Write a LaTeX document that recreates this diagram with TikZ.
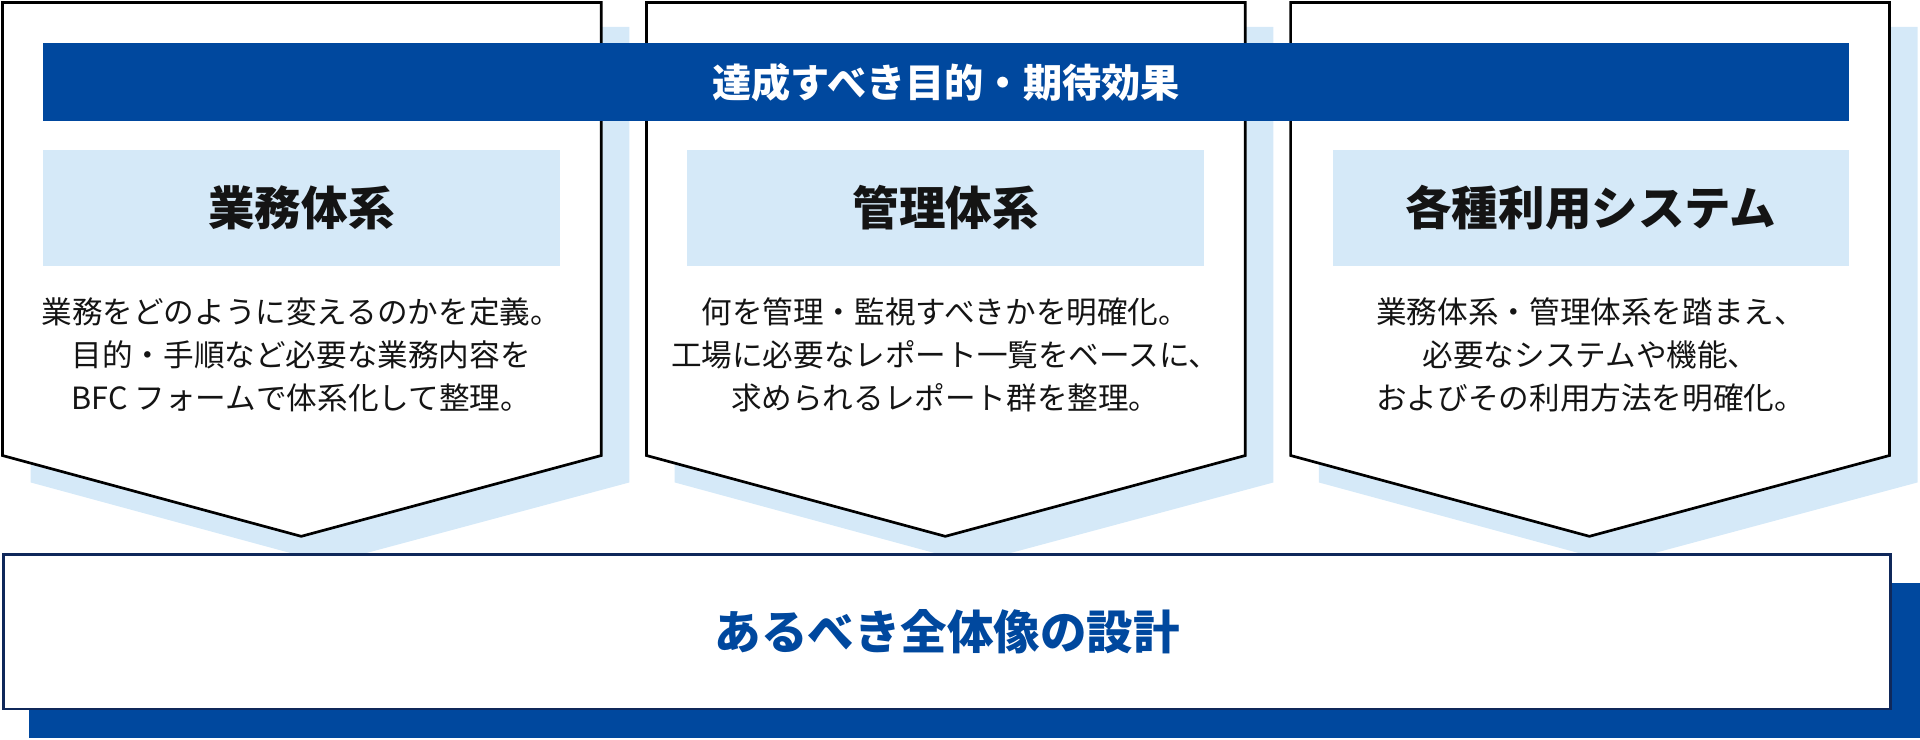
\documentclass[tikz,border=0pt]{standalone}
\usepackage{fontspec}
\setmainfont{Noto Sans CJK JP}
\definecolor{bandblue}{RGB}{0,72,158}
\definecolor{paleblue}{RGB}{213,233,248}
\definecolor{navy}{RGB}{15,40,90}
\definecolor{ink}{RGB}{20,20,20}
\tikzset{
  panelshadow/.style={fill=paleblue, draw=none},
  panelbox/.style={fill=white, draw=black, line width=2.2pt, line join=miter},
  titlebox/.style={fill=paleblue, draw=none, minimum width=422pt, minimum height=95pt, inner sep=0pt},
  titletext/.style={font=\fontsize{38}{44}\selectfont\bfseries, text=ink},
  desctext/.style={font=\fontsize{25}{35}\selectfont, text=ink, align=center, inner sep=0pt},
}
\begin{document}
\begin{tikzpicture}[x=1pt,y=-1pt]
\useasboundingbox (0,0) rectangle (1568,604.3);
% panel shadows
\foreach \xo in {0,526,1052}{
  \fill[panelshadow] (\xo+25,22) -- (\xo+514,22) -- (\xo+514,394) -- (\xo+268,460) -- (\xo+25,394) -- cycle;
}
% bottom box shadow
\fill[bandblue] (24,476) rectangle (1568,603);
% panels
\foreach \xo in {0,526,1052}{
  \draw[panelbox] (\xo+2,2) -- (\xo+491,2) -- (\xo+491,372) -- (\xo+246,438) -- (\xo+2,372) -- cycle;
}
% bottom box
\node[draw=navy, line width=2pt, fill=white, minimum width=1541pt, minimum height=126pt, inner sep=0pt,
      anchor=north west, text=bandblue, font=\fontsize{38}{44}\selectfont\bfseries] (base) at (2,452) {あるべき全体像の設計};
% band
\node[fill=bandblue, minimum width=1475pt, minimum height=64pt, inner sep=0pt, anchor=north west,
      text=white, font=\fontsize{32}{36}\selectfont\bfseries] (band) at (35,35) {達成すべき目的・期待効果};
% title boxes
\node[titlebox, anchor=north west] (t1) at (35,122) {};
\node[titlebox, anchor=north west] (t2) at (561,122) {};
\node[titlebox, anchor=north west] (t3) at (1088,122) {};
\node[titletext] (tt1) at (t1.center) {業務体系};
\node[titletext] (tt2) at (t2.center) {管理体系};
\node[titletext] (tt3) at (t3.center) {各種利用システム};
% descriptions
\node[desctext] (d1) at (246,290) {業務をどのように変えるのかを定義。\\目的・手順など必要な業務内容を\\BFC フォームで体系化して整理。};
\node[desctext] (d2) at (772,290) {何を管理・監視すべきかを明確化。\\工場に必要なレポート一覧をベースに、\\求められるレポート群を整理。};
\node[desctext] (d3) at (1299,290) {業務体系・管理体系を踏まえ、\\必要なシステムや機能、\\およびその利用方法を明確化。};
\end{tikzpicture}
\end{document}
